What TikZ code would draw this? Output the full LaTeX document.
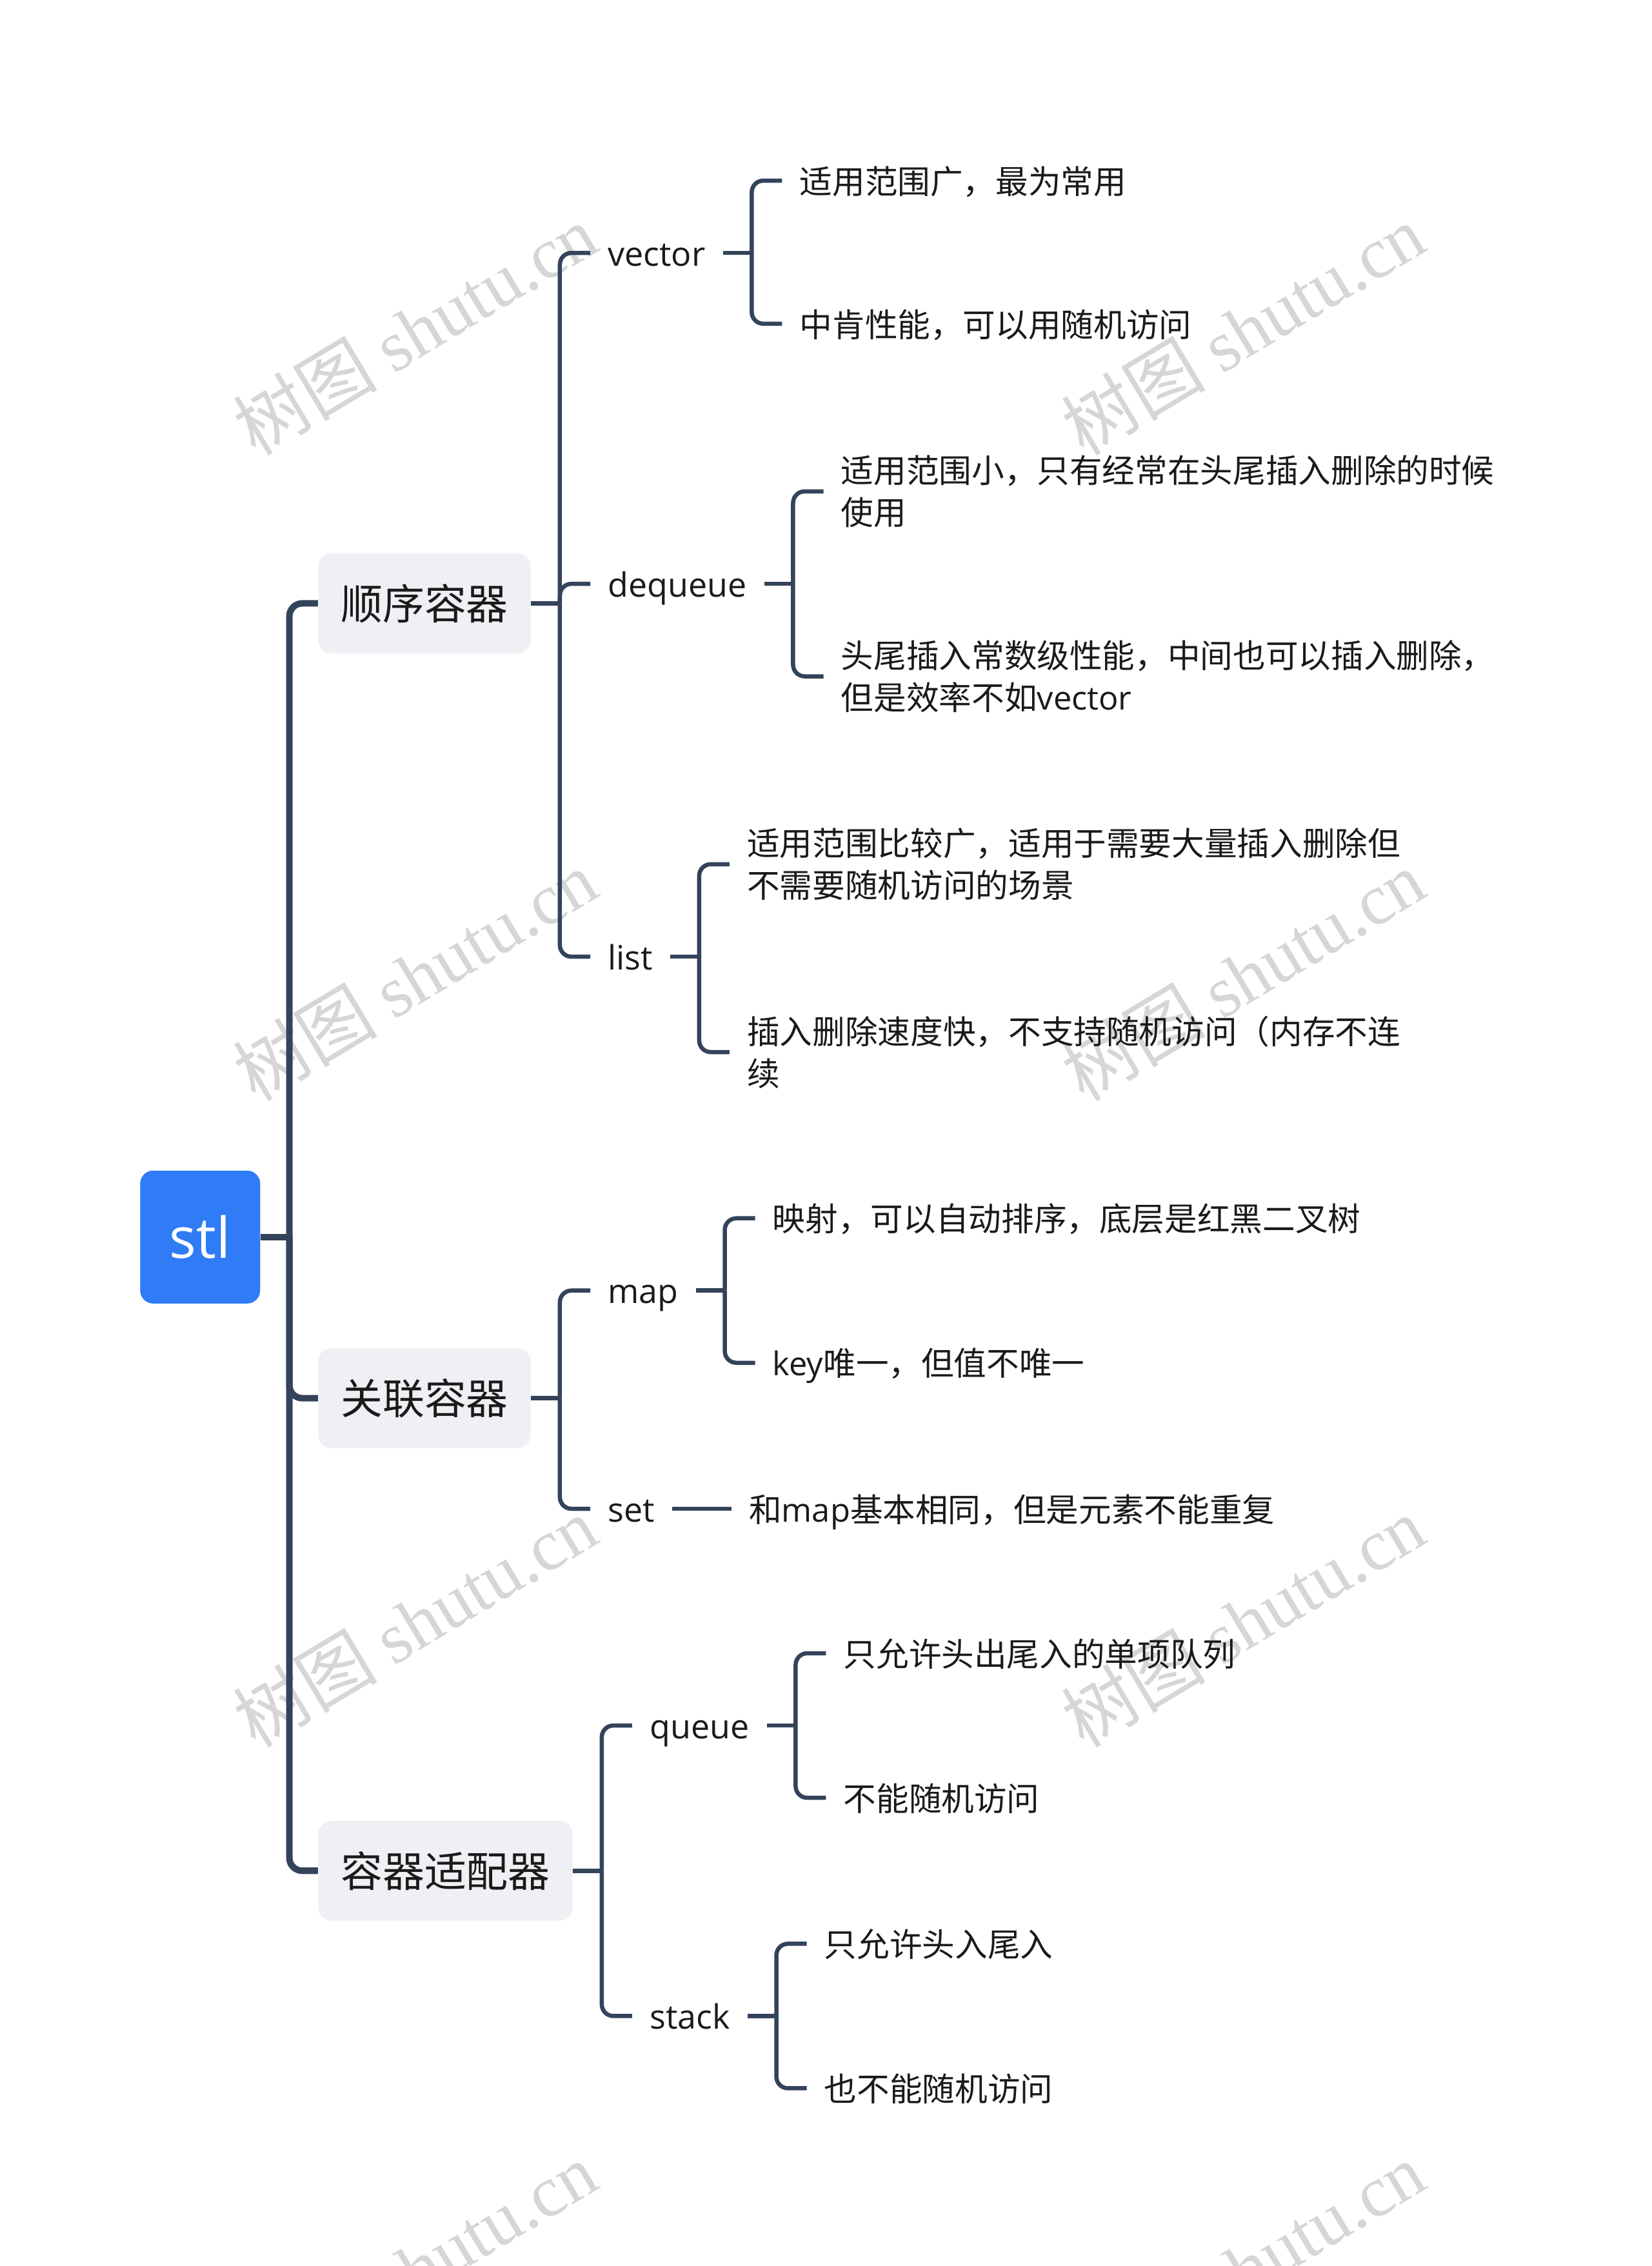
\documentclass[tikz,border=0pt]{standalone}
\usepackage{fontspec}
\setmainfont{Noto Sans CJK SC}
\newfontfamily\lat{Open Sans}
\newfontfamily\wmlat{Liberation Serif}
\usetikzlibrary{calc}
\definecolor{linec}{HTML}{33435A}
\definecolor{boxfill}{HTML}{EEF0F3}
\definecolor{rootfill}{HTML}{2F7CF6}
\definecolor{wm}{HTML}{D6D6D6}
\definecolor{txt}{HTML}{1A1A1A}
\begin{document}
\begin{tikzpicture}[x=1pt,y=-1pt,
  rootnode/.style={fill=rootfill, rounded corners=9pt, minimum width=83pt, minimum height=92pt, text=white, font=\lat\fontsize{39}{42}\selectfont, inner sep=0pt},
  mainbox/.style={fill=boxfill, rounded corners=9pt, minimum height=69pt, inner xsep=15.5pt, anchor=west, font=\fontsize{29}{32}\selectfont, text=txt},
  mid/.style={anchor=west, inner xsep=12pt, inner ysep=2pt, text height=21pt, text depth=3pt, font=\lat\fontsize{23.2}{29}\selectfont, text=txt},
  leaf/.style={anchor=west, inner xsep=12pt, inner ysep=2pt, text height=21pt, text depth=3pt, font=\fontsize{22.6}{29}\selectfont, text=txt},
  leafm/.style={anchor=west, inner xsep=12pt, inner ysep=2pt, font=\fontsize{22.6}{29}\selectfont, text=txt, align=left},
  lone/.style={draw=linec, line width=4.5pt, rounded corners=9pt},
  ltwo/.style={draw=linec, line width=2.9pt, rounded corners=8pt},
  wmark/.style={text=wm, rotate=31, font=\fontsize{50}{50}\selectfont}
]
\useasboundingbox (0,0) rectangle (1143,1568);
\fill[white] (0,0) rectangle (1143,1568);

% watermarks
\begin{scope}
\clip (0,0) rectangle (1143,1568);
\foreach \wx/\wy [count=\i] in {287/228, 860/228, 287/675, 860/675, 287/1122, 860/1122, 287/1569, 860/1569}
  \node[wmark] (wm\i) at (\wx,\wy) {树图 {\wmlat shutu.cn}};
\end{scope}

% root
\node[rootnode] (root) at (138.5,856) {stl};
\coordinate (rv) at ($(root.east)+(20,0)$);

% level 1
\node[mainbox] (s1) at (220,417.5) {顺序容器};
\node[mainbox] (s2) at (220,967.5) {关联容器};
\node[mainbox] (s3) at (220,1294.5) {容器适配器};
\draw[lone] (root.east) -- (rv);
\draw[lone] (rv) |- (s1.west);
\draw[lone] (rv) |- (s2.west);
\draw[lone] (rv) |- (s3.west);

% ---------- 顺序容器
\path (s1.east) ++(20,0) coordinate (s1v) ++(21,0) coordinate (s1c);
\node[mid] (vec) at (s1c |- 0,175) {vector};
\node[mid] (deq) at (s1c |- 0,404) {dequeue};
\node[mid] (lst) at (s1c |- 0,662) {list};
\draw[ltwo] (s1.east) -- (s1v);
\foreach \c in {vec,deq,lst} \draw[ltwo] (s1v) |- (\c.west);

% vector
\path (vec.east) ++(20,0) coordinate (vecv) ++(21,0) coordinate (vecc);
\node[leaf] (vec1) at (vecc |- 0,125) {适用范围广，最为常用};
\node[leaf] (vec2) at (vecc |- 0,224) {中肯性能，可以用随机访问};
\draw[ltwo] (vec.east) -- (vecv);
\foreach \c in {vec1,vec2} \draw[ltwo] (vecv) |- (\c.west);

% dequeue
\path (deq.east) ++(20,0) coordinate (deqv) ++(21,0) coordinate (deqc);
\node[leafm] (deq1) at (deqc |- 0,340) {适用范围小，只有经常在头尾插入删除的时候\\使用};
\node[leafm] (deq2) at (deqc |- 0,468) {头尾插入常数级性能，中间也可以插入删除，\\但是效率不如{\lat vector}};
\draw[ltwo] (deq.east) -- (deqv);
\foreach \c in {deq1,deq2} \draw[ltwo] (deqv) |- (\c.west);

% list
\path (lst.east) ++(20,0) coordinate (lstv) ++(21,0) coordinate (lstc);
\node[leafm] (lst1) at (lstc |- 0,598) {适用范围比较广，适用于需要大量插入删除但\\不需要随机访问的场景};
\node[leafm] (lst2) at (lstc |- 0,728) {插入删除速度快，不支持随机访问（内存不连\\续};
\draw[ltwo] (lst.east) -- (lstv);
\foreach \c in {lst1,lst2} \draw[ltwo] (lstv) |- (\c.west);

% ---------- 关联容器
\path (s2.east) ++(20,0) coordinate (s2v) ++(21,0) coordinate (s2c);
\node[mid] (map) at (s2c |- 0,893) {map};
\node[mid] (set) at (s2c |- 0,1044) {set};
\draw[ltwo] (s2.east) -- (s2v);
\foreach \c in {map,set} \draw[ltwo] (s2v) |- (\c.west);

% map
\path (map.east) ++(20,0) coordinate (mapv) ++(21,0) coordinate (mapc);
\node[leaf] (map1) at (mapc |- 0,843) {映射，可以自动排序，底层是红黑二叉树};
\node[leaf] (map2) at (mapc |- 0,943) {{\lat key}唯一，但值不唯一};
\draw[ltwo] (map.east) -- (mapv);
\foreach \c in {map1,map2} \draw[ltwo] (mapv) |- (\c.west);

% set
\path (set.east) ++(20,0) coordinate (setv) ++(21,0) coordinate (setc);
\node[leaf] (set1) at (setc |- 0,1044) {和{\lat map}基本相同，但是元素不能重复};
\draw[ltwo] (set.east) -- (set1.west);

% ---------- 容器适配器
\path (s3.east) ++(20,0) coordinate (s3v) ++(21,0) coordinate (s3c);
\node[mid] (que) at (s3c |- 0,1194) {queue};
\node[mid] (stk) at (s3c |- 0,1395) {stack};
\draw[ltwo] (s3.east) -- (s3v);
\foreach \c in {que,stk} \draw[ltwo] (s3v) |- (\c.west);

% queue
\path (que.east) ++(20,0) coordinate (quev) ++(21,0) coordinate (quec);
\node[leaf] (que1) at (quec |- 0,1144) {只允许头出尾入的单项队列};
\node[leaf] (que2) at (quec |- 0,1244) {不能随机访问};
\draw[ltwo] (que.east) -- (quev);
\foreach \c in {que1,que2} \draw[ltwo] (quev) |- (\c.west);

% stack
\path (stk.east) ++(20,0) coordinate (stkv) ++(21,0) coordinate (stkc);
\node[leaf] (stk1) at (stkc |- 0,1345) {只允许头入尾入};
\node[leaf] (stk2) at (stkc |- 0,1445) {也不能随机访问};
\draw[ltwo] (stk.east) -- (stkv);
\foreach \c in {stk1,stk2} \draw[ltwo] (stkv) |- (\c.west);
\end{tikzpicture}
\end{document}
